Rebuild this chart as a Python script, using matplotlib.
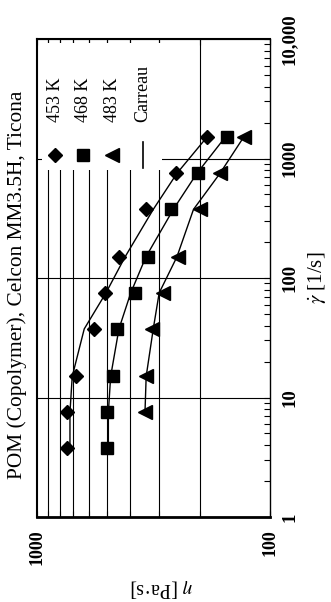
import matplotlib
matplotlib.use("Agg")
import matplotlib.pyplot as plt
from matplotlib.ticker import FixedLocator, NullFormatter
from matplotlib.patches import Rectangle

plt.rcParams['font.family'] = ['Liberation Serif', 'DejaVu Serif']
plt.rcParams['mathtext.fontset'] = 'stix'

# Shear rates [1/s] and measured viscosities [Pa·s]
shear_rate = [3.75, 7.5, 15, 37.5, 75, 150, 375, 750, 1500]
shear_rate_483 = [7.5, 15, 37.5, 75, 150, 375, 750, 1500]
eta_453 = [743, 743, 682, 568, 509, 443, 340, 253, 186]
eta_468 = [501, 501, 471, 452, 379, 333, 266, 203, 153]
eta_483 = [344, 342, 322, 287, 248, 200, 164, 129]

# Carreau fit values at the same shear rates
carreau_453 = [722, 722, 706, 627, 506, 419, 317, 251, 187]
carreau_468 = [494, 494, 483, 445, 396, 341, 260, 206, 156]
carreau_483 = [344, 340, 317, 299, 251, 213, 164, 130]

labels = ['453 K', '468 K', '483 K', 'Carreau']
title = 'POM (Copolymer), Celcon MM3.5H, Ticona'

fig = plt.figure(figsize=(3.31, 6.02), dpi=100)
W, H = 331, 602
ax = fig.add_axes([37 / W, 1 - 517 / H, 233 / W, 478 / H])

ax.set_xscale('log')
ax.set_yscale('log')
ax.set_xlim(1000, 100)
ax.set_ylim(1, 10000)
ax.set_axisbelow(True)

# Carreau lines
for eta, sr in [(carreau_453, shear_rate), (carreau_468, shear_rate), (carreau_483, shear_rate_483)]:
    ax.plot(eta, sr, color='black', lw=1.0, zorder=3)

# Measured points
ax.plot(eta_453, shear_rate, ls='none', marker='D', ms=7.5, color='black', zorder=4)
ax.plot(eta_468, shear_rate, ls='none', marker='s', ms=8.5, color='black', zorder=4)
ax.plot(eta_483, shear_rate_483, ls='none', marker='<', ms=9.5, color='black', zorder=4)

# Ticks
ax.yaxis.tick_right()
ax.set_yticks([1, 10, 100, 1000, 10000])
ax.set_yticklabels(['1', '10', '100', '1000', '10,000'], rotation=90,
                   fontweight='bold', fontsize=13.5, va='center')
ax.yaxis.set_minor_locator(FixedLocator(
    [m * 10 ** e for e in range(0, 4) for m in range(2, 10)]))
ax.yaxis.set_minor_formatter(NullFormatter())
ax.tick_params(axis='y', which='both', direction='in', right=True, left=False,
               length=4, width=0.8, pad=8)

ax.set_xticks([1000, 100])
ax.set_xticklabels(['1000', '100'], rotation=90, fontweight='bold', fontsize=13)
ax.xaxis.set_minor_locator(FixedLocator([m * 100 for m in range(2, 10)]))
ax.xaxis.set_minor_formatter(NullFormatter())
ax.tick_params(axis='x', which='both', direction='in', top=True, bottom=True,
               length=4, width=0.8, pad=9)

ax.grid(which='minor', axis='x', color='black', lw=0.8)
ax.grid(which='major', axis='y', color='black', lw=0.8)

for side, lw in [('bottom', 2.0), ('left', 1.5), ('top', 1.5), ('right', 1.0)]:
    ax.spines[side].set_linewidth(lw)

# Legend block
ax.add_patch(Rectangle((0.0215, 0.726), 0.515, 0.266, transform=ax.transAxes,
                       facecolor='white', edgecolor='none', zorder=1))
leg_x = [0.079, 0.199, 0.323, 0.455]
leg_marker_y = 0.757
ax.plot([leg_x[0]], [leg_marker_y], marker='D', ms=7.5, color='black',
        transform=ax.transAxes, zorder=4, clip_on=False)
ax.plot([leg_x[1]], [leg_marker_y], marker='s', ms=8.5, color='black',
        transform=ax.transAxes, zorder=4, clip_on=False)
ax.plot([leg_x[2]], [leg_marker_y], marker='<', ms=9.5, color='black',
        transform=ax.transAxes, zorder=4, clip_on=False)
ax.plot([leg_x[3], leg_x[3]], [0.730, 0.785], color='black', lw=1.2,
        transform=ax.transAxes, zorder=4)
for x, lab in zip(leg_x, labels):
    ax.text(x, 0.826, lab, rotation=90, ha='center', va='bottom',
            fontsize=13, transform=ax.transAxes, zorder=5)

# Titles
fig.text(17 / W, 1 - 285 / H, title, rotation=90, ha='center', va='center',
         fontsize=15.4)
fig.text(317 / W, 1 - 278 / H, r'$\dot{\gamma}$ [1/s]', rotation=90,
         ha='center', va='center', fontsize=15)
fig.text(161 / W, 1 - 588 / H, r'$\eta$ [Pa·s]', rotation=180,
         ha='center', va='center', fontsize=14.5)

fig.savefig('out.png', dpi=100)
